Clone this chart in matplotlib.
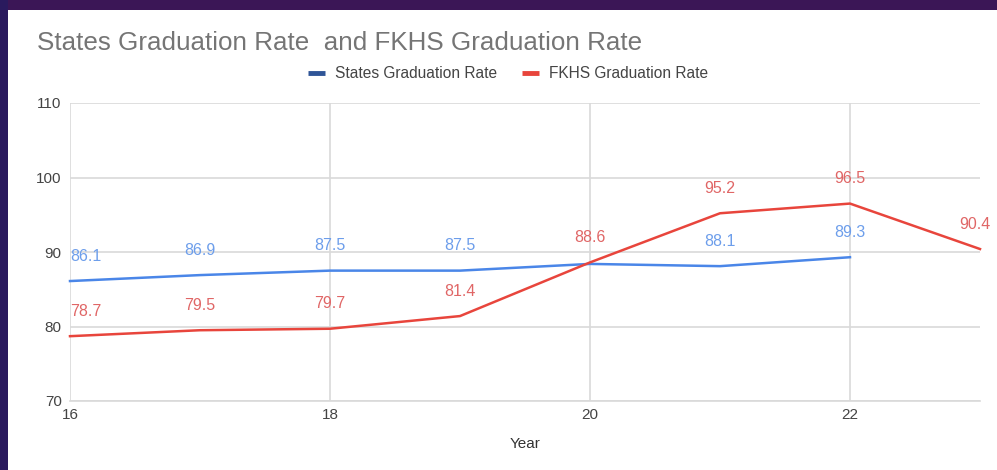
import matplotlib
matplotlib.use("Agg")
import matplotlib.pyplot as plt
from matplotlib.patches import Rectangle
from matplotlib.lines import Line2D

years = [16, 17, 18, 19, 20, 21, 22, 23]
states_years = [16, 17, 18, 19, 20, 21, 22]
states_rate = [86.1, 86.9, 87.5, 87.5, 88.4, 88.1, 89.3]
states_labels_shown = [True, True, True, True, False, True, True]
fkhs_rate = [78.7, 79.5, 79.7, 81.4, 88.6, 95.2, 96.5, 90.4]
x_ticks = [16, 18, 20, 22]
y_ticks = [70, 80, 90, 100, 110]

plt.rcParams['font.family'] = ['Liberation Sans', 'DejaVu Sans']

BLUE = '#4a86e8'
BLUE_LBL = '#6d9eeb'
BLUE_LEG = '#2f5597'
RED = '#e8453c'
RED_LBL = '#e06666'

fig = plt.figure(figsize=(9.97, 4.70), dpi=100, facecolor='white')
# slide background strips (top and left) around the white chart panel
fig.patches.append(Rectangle((0, 1 - 10/470), 1, 10/470, transform=fig.transFigure,
                             facecolor='#3b1656', edgecolor='none', zorder=-1))
fig.patches.append(Rectangle((0, 0), 8/997, 1, transform=fig.transFigure,
                             facecolor='#2a1a5e', edgecolor='none', zorder=-1))

ax = fig.add_axes([70/997, 1 - 401/470, 910/997, 298/470])
ax.set_zorder(2)
ax.set_facecolor('white')
ax.plot(states_years, states_rate, color=BLUE, lw=1.8, zorder=3, clip_on=False)
ax.plot(years, fkhs_rate, color=RED, lw=1.8, zorder=3, clip_on=False)

LBL_FS = 11.5
for i, (x, y) in enumerate(zip(states_years, states_rate)):
    if not states_labels_shown[i]:
        continue
    ha = 'left' if i == 0 else 'center'
    ax.annotate(f"{y}", (x, y), xytext=(0, 18), textcoords='offset points',
                ha=ha, va='center', color=BLUE_LBL, fontsize=LBL_FS, clip_on=False)
for i, (x, y) in enumerate(zip(years, fkhs_rate)):
    ha = 'left' if i == 0 else 'center'
    dx = -4 if i == len(years) - 1 else 0
    ax.annotate(f"{y}", (x, y), xytext=(dx, 18), textcoords='offset points',
                ha=ha, va='center', color=RED_LBL, fontsize=LBL_FS, clip_on=False)

ax.set_xlim(16, 23)
ax.set_ylim(70, 110)
ax.set_xticks(x_ticks)
ax.set_yticks(y_ticks)
ax.set_xticklabels([str(t) for t in x_ticks])
ax.set_yticklabels([str(t) for t in y_ticks])
ax.grid(True, color='#d9d9d9', lw=1.2)
ax.set_axisbelow(True)
for s in ['top', 'right', 'left']:
    ax.spines[s].set_visible(False)
ax.spines['bottom'].set_color('#d9d9d9')
ax.spines['bottom'].set_linewidth(1.2)
ax.tick_params(axis='both', length=0, labelsize=11, labelcolor='#444444')
ax.tick_params(axis='x', pad=5)
ax.tick_params(axis='y', pad=6)
ax.set_xlabel('Year', fontsize=11, color='#333333', labelpad=11)

fig.text(37/997, 1 - 43/470, 'States Graduation Rate  and FKHS Graduation Rate',
         fontsize=18.7, color='#757575', ha='left', va='center')

handles = [Line2D([], [], color=BLUE_LEG, lw=3.5, solid_capstyle='butt'),
           Line2D([], [], color=RED, lw=3.5, solid_capstyle='butt')]
fig.legend(handles, ['States Graduation Rate', 'FKHS Graduation Rate'],
           loc='center', bbox_to_anchor=(508/997, 1 - 74/470), ncol=2,
           frameon=False, fontsize=11.2, handlelength=1.1, columnspacing=1.6,
           handletextpad=0.65, labelcolor='#444444')

fig.savefig('out.png', dpi=100, facecolor=fig.get_facecolor())
